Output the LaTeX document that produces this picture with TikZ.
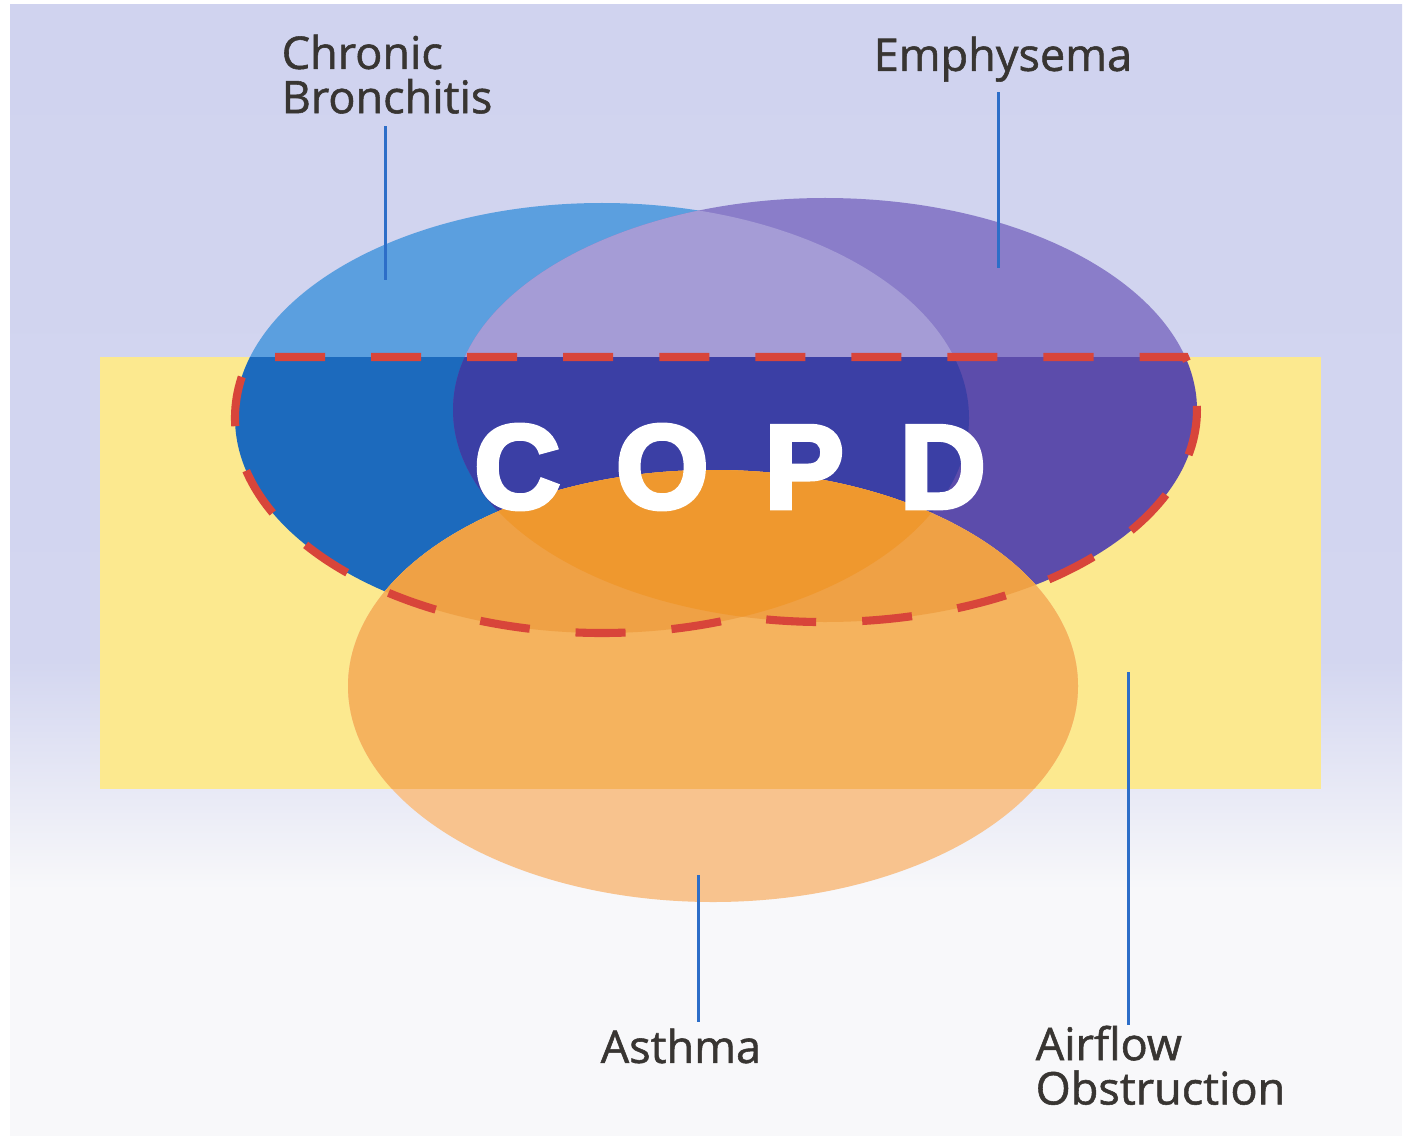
\documentclass[tikz,border=0pt]{standalone}
\usepackage{fontspec}
\setmainfont{Open Sans}
\newfontfamily\labelfont{Open Sans}[FakeBold=1.2]
\newfontfamily\copdfont{Liberation Sans Bold}[FakeBold=4]
\definecolor{figBgTop}{RGB}{208,211,239}
\definecolor{figBgMid}{RGB}{211,214,240}
\definecolor{figBgBot}{RGB}{248,248,250}
\definecolor{figY}{RGB}{252,233,143}
\definecolor{figBlueUp}{RGB}{91,159,223}
\definecolor{figPurpleUp}{RGB}{138,125,201}
\definecolor{figMixUp}{RGB}{165,156,214}
\definecolor{figBlueIn}{RGB}{28,106,189}
\definecolor{figPurpleIn}{RGB}{92,76,171}
\definecolor{figMixIn}{RGB}{59,63,165}
\definecolor{figOrIn}{RGB}{245,179,94}
\definecolor{figOrOne}{RGB}{239,161,69}
\definecolor{figOrTwo}{RGB}{239,152,46}
\definecolor{figOrLow}{RGB}{248,195,142}
\definecolor{figR}{RGB}{216,69,58}
\definecolor{figLine}{RGB}{45,110,200}
\definecolor{figText}{RGB}{56,53,50}

\begin{document}
\begin{tikzpicture}[x=0.01cm,y=-0.01cm,
  leader/.style={line width=0.85pt,figLine},
  disease/.style={inner sep=0pt,align=left,text=figText,font=\labelfont\fontsize{12.8}{12.6}\selectfont}]
\useasboundingbox (0,0) rectangle (1404,1140);
% background
\shade[top color=figBgTop,bottom color=figBgMid] (10,5) rectangle (1402,660);
\shade[top color=figBgMid,bottom color=figBgBot] (10,660) rectangle (1402,890);
\fill[figBgBot] (10,890) rectangle (1402,1136);
% airflow obstruction band
\fill[figY] (100,357) rectangle (1321,789);
% bronchitis and emphysema above the band
\begin{scope}
\clip (0,0) rectangle (1404,357);
\fill[figBlueUp] (602,418) ellipse[x radius=367,y radius=215];
\fill[figPurpleUp] (825,410) ellipse[x radius=372,y radius=212];
\clip (602,418) ellipse[x radius=367,y radius=215];
\fill[figMixUp] (825,410) ellipse[x radius=372,y radius=212];
\end{scope}
% ... and inside it
\begin{scope}
\clip (0,357) rectangle (1404,1140);
\fill[figBlueIn] (602,418) ellipse[x radius=367,y radius=215];
\fill[figPurpleIn] (825,410) ellipse[x radius=372,y radius=212];
\clip (602,418) ellipse[x radius=367,y radius=215];
\fill[figMixIn] (825,410) ellipse[x radius=372,y radius=212];
\end{scope}
% asthma
\fill[figOrLow] (713,686) ellipse[x radius=365,y radius=216];
\begin{scope}
\clip (713,686) ellipse[x radius=365,y radius=216];
\fill[figOrIn] (0,0) rectangle (1404,789);
\fill[figOrOne] (602,418) ellipse[x radius=367,y radius=215];
\fill[figOrOne] (825,410) ellipse[x radius=372,y radius=212];
\clip (602,418) ellipse[x radius=367,y radius=215];
\fill[figOrTwo] (825,410) ellipse[x radius=372,y radius=212];
\end{scope}
% COPD outline
\draw[figR,line width=2.3pt,dash pattern=on 0.5cm off 0.46cm,dash phase=0.71cm]
  (250,357) -- (1185,357)
  arc[start angle=-14.5,end angle=102.9,x radius=372,y radius=212]
  arc[start angle=67.6,end angle=196.5,x radius=367,y radius=215] -- cycle;
\node[text=white,font=\copdfont\fontsize{33.8}{34}\selectfont,inner sep=0pt] (copd) at (730,467)
  {C\hspace{0.56cm}O\hspace{0.56cm}P\hspace{0.56cm}D};
% labels
\node[disease,anchor=north west] (bronchitis) at (281,34) {Chronic\\Bronchitis};
\node[disease,anchor=north west] (emphysema) at (873,36) {Emphysema};
\node[disease,anchor=north west] (asthma) at (600,1028) {Asthma};
\node[disease,anchor=north west] (airflow) at (1035,1025) {Airflow\\Obstruction};
\coordinate (bronchitis end) at (385,280);
\coordinate (emphysema end) at (998,268);
\coordinate (asthma end) at (698,875);
\coordinate (airflow end) at (1128,672);
\draw[leader,shorten <=0.12cm] (bronchitis.south -| bronchitis end) -- (bronchitis end);
\draw[leader,shorten <=0.1cm] (emphysema.south -| emphysema end) -- (emphysema end);
\draw[leader,shorten >=0.06cm] (asthma end) -- (asthma end |- asthma.north);
\draw[leader] (airflow end) -- (airflow end |- airflow.north);
\end{tikzpicture}
\end{document}
